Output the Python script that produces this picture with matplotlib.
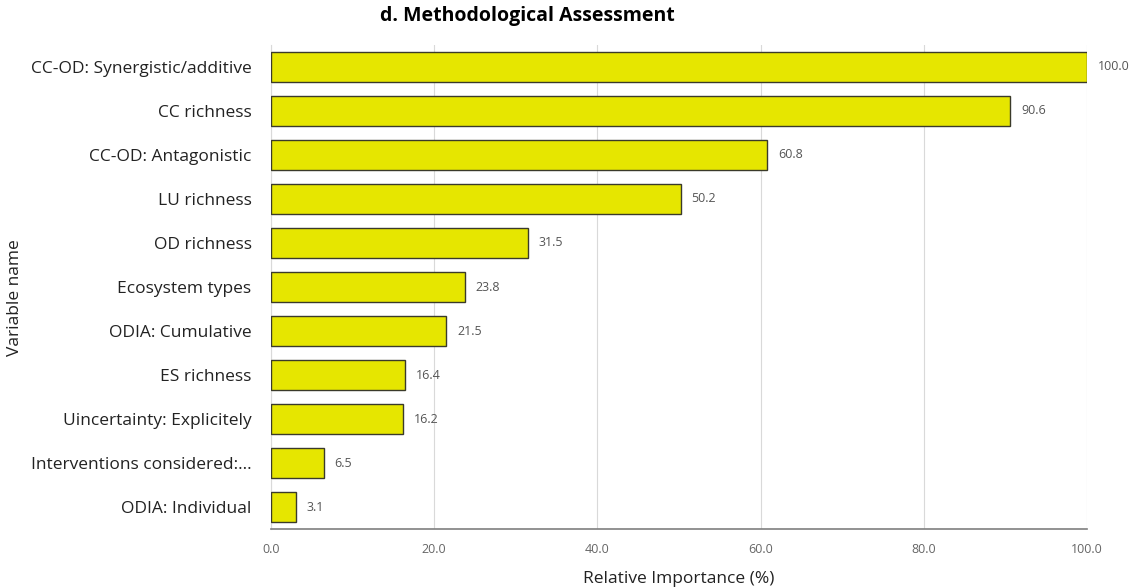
import matplotlib.pyplot as plt
import numpy as np

plt.rcParams['font.family'] = ['Open Sans', 'DejaVu Sans']

names = ['CC-OD: Synergistic/additive', 'CC richness', 'CC-OD: Antagonistic',
         'LU richness', 'OD richness', 'Ecosystem types', 'ODIA: Cumulative',
         'ES richness', 'Uincertainty: Explicitely', 'Interventions considered:...',
         'ODIA: Individual']
values = [100.0, 90.6, 60.8, 50.2, 31.5, 23.8, 21.5, 16.4, 16.2, 6.5, 3.1]
xticks = [0, 20, 40, 60, 80, 100]

fig = plt.figure(figsize=(11.34, 5.88), dpi=100)
ax = fig.add_axes([0.239, 0.1003, 0.7196, 0.8232])

y = np.arange(len(names))
ax.barh(y, values, height=0.68, color='#E6E600', edgecolor='#3a3a2a', linewidth=1, zorder=3)
for yi, v in zip(y, values):
    ax.text(v + 1.3, yi, f'{v:.1f}', va='center', ha='left', fontsize=9, color='#555555')

ax.set_ylim(len(names) - 0.5, -0.5)
ax.set_yticks(y)
ax.set_yticklabels(names, fontsize=12.5, color='#222222')
ax.set_xlim(0, 100)
ax.set_xticks(xticks)
ax.set_xticklabels([f'{t:.1f}' for t in xticks], fontsize=9, color='#666666')
ax.tick_params(axis='both', length=0)
ax.tick_params(axis='x', pad=10)
ax.tick_params(axis='y', pad=14)
ax.grid(axis='x', color='#d9d9d9', linewidth=0.8, zorder=0)
for s in ['top', 'right']:
    ax.spines[s].set_visible(False)
ax.spines['left'].set_color('#d9d9d9')
ax.spines['bottom'].set_color('#7f7f7f')
ax.spines['bottom'].set_linewidth(1.2)

ax.set_xlabel('Relative Importance (%)', fontsize=12.5, color='#222222', labelpad=11)
fig.text(0.0135, 0.493, 'Variable name', fontsize=12.5, color='#222222',
         rotation=90, ha='center', va='center')
fig.text(0.465, 0.973, 'd. Methodological Assessment', fontsize=14,
         fontweight='bold', ha='center', va='center')

fig.savefig('out.png', dpi=100)
